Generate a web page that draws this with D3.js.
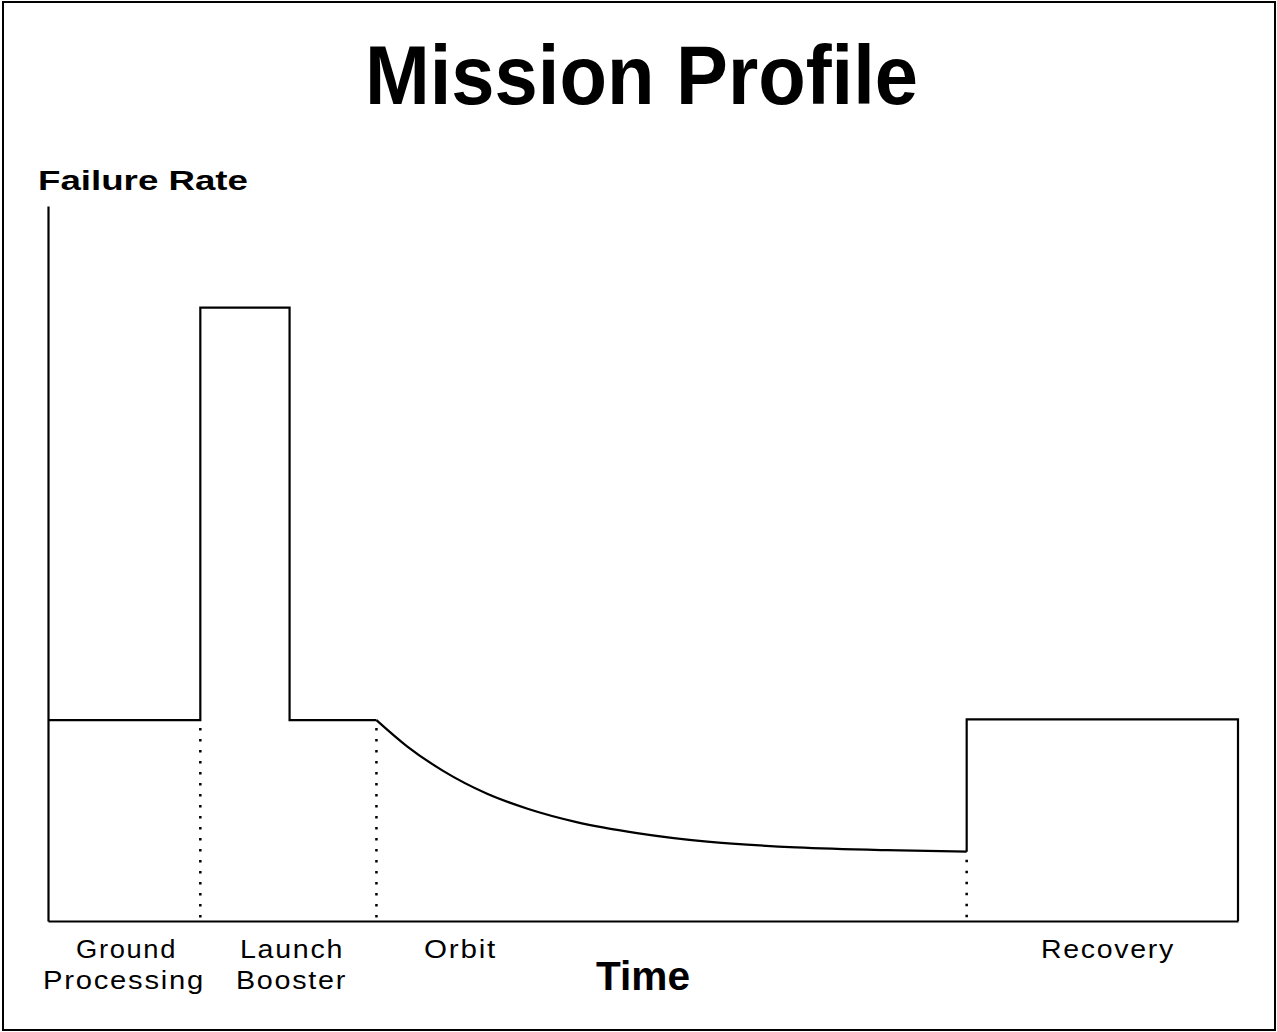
<!DOCTYPE html>
<html>
<head>
<meta charset="utf-8">
<script src="https://cdn.jsdelivr.net/npm/d3@7/dist/d3.min.js"></script>
<style>
  body { margin: 0; background: #fff; }
  svg { display: block; }
</style>
</head>
<body>
<div id="chart"></div>
<script>
// mission phases (time units 0..100), failure rate units 0..100
const phaseNames = [["Ground", "Processing"], ["Launch", "Booster"], ["Orbit"], ["Recovery"]];
const phaseBounds = [12.8, 27.6, 77.2];   // dotted separators
const stepTimes = [0, 12.8, 12.8, 20.3, 20.3, 27.6];
const stepRates = [28.1, 28.1, 85.8, 85.8, 28.1, 28.1];
const orbitTimes = [27.6, 30.2, 33.2, 36.9, 40.3, 44.5, 49.5, 55.4, 62.9, 70.5, 77.2];
const orbitRates = [28.1, 24.4, 21.0, 17.8, 15.7, 13.8, 12.3, 11.1, 10.3, 9.9, 9.7];
const recoveryTimes = [77.2, 77.2, 100, 100];
const recoveryRates = [9.7, 28.2, 28.2, 0];

const width = 1277, height = 1032;
const margin = { left: 48, right: 39, top: 206, bottom: 111 };

const svg = d3.select('#chart').append('svg')
    .attr('width', width)
    .attr('height', height);

// outer frame
svg.append('rect')
    .attr('x', 3).attr('y', 2)
    .attr('width', width - 5).attr('height', height - 4)
    .attr('fill', 'none').attr('stroke', '#000').attr('stroke-width', 2);

const x = d3.scaleLinear().domain([0, 100]).range([margin.left, width - margin.right]);
const y = d3.scaleLinear().domain([0, 100]).range([height - margin.bottom, margin.top]);

// axes as bare lines, no ticks
svg.append('g')
    .attr('transform', 'translate(0,' + y(0) + ')')
    .call(d3.axisBottom(x).tickValues([]).tickSizeOuter(0))
    .call(g => g.select('.domain').attr('stroke-width', 2.2));
svg.append('g')
    .attr('transform', 'translate(' + x(0) + ',0)')
    .call(d3.axisLeft(y).tickValues([]).tickSizeOuter(0))
    .call(g => g.select('.domain').attr('stroke-width', 2.2));

const line = d3.line().x(d => x(d[0])).y(d => y(d[1]));
const curve = d3.line().x(d => x(d[0])).y(d => y(d[1])).curve(d3.curveMonotoneX);

svg.append('path')
    .attr('d', line(d3.zip(stepTimes, stepRates)))
    .attr('fill', 'none').attr('stroke', '#000').attr('stroke-width', 2.2);
svg.append('path')
    .attr('d', curve(d3.zip(orbitTimes, orbitRates)))
    .attr('fill', 'none').attr('stroke', '#000').attr('stroke-width', 2.2);
svg.append('path')
    .attr('d', line(d3.zip(recoveryTimes, recoveryRates)))
    .attr('fill', 'none').attr('stroke', '#000').attr('stroke-width', 2.2);

// dotted phase separators
const sepTops = [stepRates[1], orbitRates[0], orbitRates[orbitRates.length - 1]];
svg.selectAll('.sep').data(phaseBounds)
    .enter().append('line').attr('class', 'sep')
    .attr('x1', d => x(d)).attr('x2', d => x(d))
    .attr('y1', (d, i) => y(sepTops[i]) + 8)
    .attr('y2', y(0))
    .attr('stroke', '#000').attr('stroke-width', 2.5)
    .attr('stroke-dasharray', '2.5,8.5');

// texts
const font = 'Liberation Sans, Arial, sans-serif';
svg.append('text')
    .attr('x', 365).attr('y', 104)
    .attr('font-family', font)
    .attr('font-weight', 'bold').attr('font-size', 84)
    .attr('textLength', 553).attr('lengthAdjust', 'spacingAndGlyphs')
    .text('Mission Profile');

svg.append('text')
    .attr('x', 38).attr('y', 190)
    .attr('font-family', font)
    .attr('font-weight', 'bold').attr('font-size', 27)
    .attr('textLength', 210).attr('lengthAdjust', 'spacingAndGlyphs')
    .text('Failure Rate');

svg.append('text')
    .attr('x', 596).attr('y', 990)
    .attr('font-family', font)
    .attr('font-weight', 'bold').attr('font-size', 41)
    .attr('textLength', 94).attr('lengthAdjust', 'spacingAndGlyphs')
    .text('Time');

// phase labels: [x start, width] per line
const labelBoxes = [[[76, 101], [43, 162]], [[240, 104], [236, 111]], [[424, 73]], [[1041, 134]]];
phaseNames.forEach((lines, i) => {
    lines.forEach((txt, j) => {
        svg.append('text')
            .attr('x', labelBoxes[i][j][0])
            .attr('y', 958 + j * 31)
            .attr('font-family', font).attr('font-size', 25)
            .attr('letter-spacing', 1.5)
            .attr('textLength', labelBoxes[i][j][1]).attr('lengthAdjust', 'spacingAndGlyphs')
            .text(txt);
    });
});
</script>
</body>
</html>
